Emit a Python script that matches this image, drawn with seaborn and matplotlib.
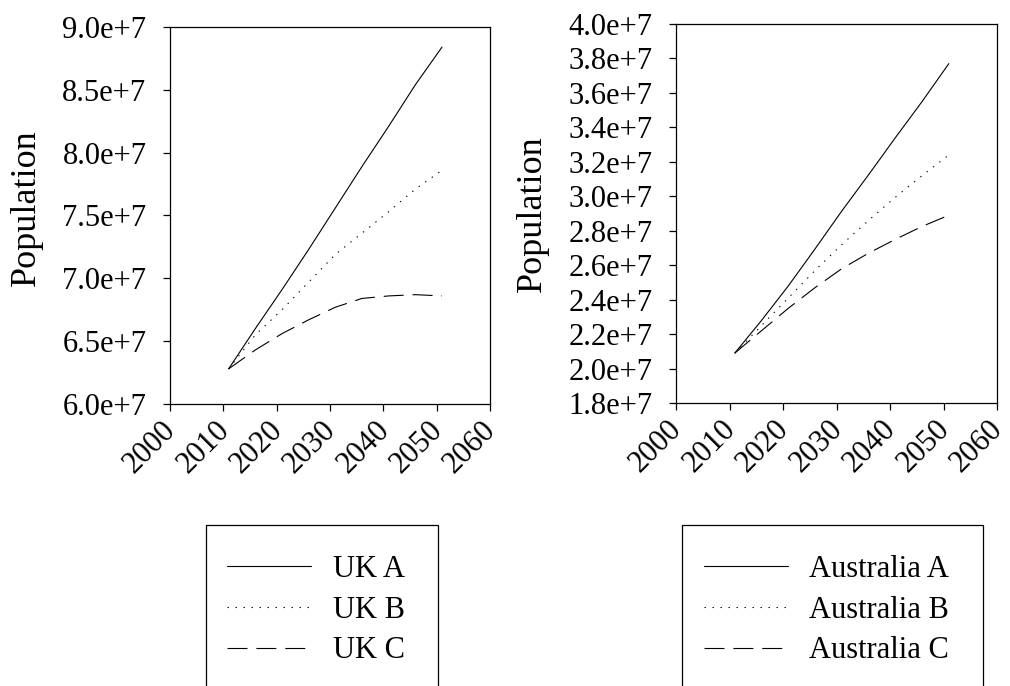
import matplotlib
matplotlib.use("Agg")
import matplotlib.pyplot as plt
import matplotlib.ticker as mticker
import matplotlib.transforms as mtransforms
from matplotlib.patches import Rectangle
import seaborn as sns

# Projection years and population series (persons)
years = [2011, 2016, 2021, 2026, 2031, 2036, 2041, 2046, 2051]

uk_a = [62.8e6, 66.0e6, 69.1e6, 72.3e6, 75.6e6, 78.9e6, 82.1e6, 85.4e6, 88.4e6]
uk_b = [62.8e6, 65.5e6, 67.5e6, 69.7e6, 71.9e6, 73.6e6, 75.3e6, 77.1e6, 78.6e6]
uk_c = [62.8e6, 64.3e6, 65.6e6, 66.7e6, 67.7e6, 68.4e6, 68.6e6, 68.7e6, 68.6e6]

au_a = [20.9e6, 22.8e6, 24.8e6, 26.95e6, 29.15e6, 31.25e6, 33.4e6, 35.5e6, 37.7e6]
au_b = [20.9e6, 22.5e6, 24.1e6, 25.7e6, 27.2e6, 28.6e6, 29.95e6, 31.2e6, 32.4e6]
au_c = [20.9e6, 22.2e6, 23.5e6, 24.7e6, 25.8e6, 26.7e6, 27.5e6, 28.25e6, 28.9e6]

uk_labels = ["UK A", "UK B", "UK C"]
au_labels = ["Australia A", "Australia B", "Australia C"]

x_ticks = [2000, 2010, 2020, 2030, 2040, 2050, 2060]
uk_yticks = [6.0e7, 6.5e7, 7.0e7, 7.5e7, 8.0e7, 8.5e7, 9.0e7]
au_yticks = [1.8e7, 2.0e7, 2.2e7, 2.4e7, 2.6e7, 2.8e7, 3.0e7, 3.2e7, 3.4e7, 3.6e7, 3.8e7, 4.0e7]

sns.set_theme(style="white")
plt.rcParams["font.family"] = ["Liberation Serif", "DejaVu Serif"]
plt.rcParams["text.color"] = "black"
plt.rcParams["axes.labelcolor"] = "black"
plt.rcParams["axes.edgecolor"] = "black"
plt.rcParams["axes.linewidth"] = 0.9

line_styles = ["-", (0, (1.2, 6)), (0, (18, 8))]
FS = 22


def sci_fmt(v, _pos):
    mant, exp = f"{v:.1e}".split("e")
    return f"{mant}e{int(exp):+d}"


fig = plt.figure(figsize=(10.10, 6.86), dpi=100)
ax1 = fig.add_axes([170 / 1010, 1 - 404 / 686, 320 / 1010, 377 / 686])
ax2 = fig.add_axes([676 / 1010, 1 - 403 / 686, 321 / 1010, 379 / 686])

# (axes, series, labels, y ticks, legend box left/right px, ylabel centre)
panels = [
    (ax1, [uk_a, uk_b, uk_c], uk_labels, uk_yticks, (205.7, 437.7), 0.52),
    (ax2, [au_a, au_b, au_c], au_labels, au_yticks, (682, 983), 0.50),
]

shift = mtransforms.ScaledTranslation(1.2 / 72, 0, fig.dpi_scale_trans)

for ax, series, labels, yticks, (bx0, bx1), ycen in panels:
    for vals, lab, ls in zip(series, labels, line_styles):
        sns.lineplot(x=years, y=vals, ax=ax, color="black", linewidth=0.8,
                     linestyle=ls, label=lab, legend=False)
    ax.set_xlim(x_ticks[0], x_ticks[-1])
    ax.set_ylim(yticks[0], yticks[-1])
    ax.set_xticks(x_ticks)
    ax.set_yticks(yticks)
    ax.yaxis.set_major_formatter(mticker.FuncFormatter(sci_fmt))
    ax.tick_params(axis="both", which="major", direction="out", length=5,
                   width=0.9, color="black", labelsize=FS, labelcolor="black",
                   bottom=True, left=True)
    ax.tick_params(axis="y", pad=12)
    ax.tick_params(axis="x", pad=11)
    for lbl in ax.get_xticklabels():
        lbl.set_rotation(45)
        lbl.set_ha("right")
        lbl.set_va("center")
        lbl.set_rotation_mode("anchor")
        lbl.set_transform(lbl.get_transform() + shift)
    for sp in ax.spines.values():
        sp.set_visible(True)
        sp.set_color("black")
    ax.set_xlabel("")
    ax.set_ylabel("Population", fontsize=26, color="black")
    ax.yaxis.set_label_coords(-0.397, ycen)

    # legend frame running off the bottom edge
    fig.add_artist(Rectangle((bx0 / 1010, -0.05), (bx1 - bx0) / 1010,
                             (686 - 525) / 686 + 0.05,
                             transform=fig.transFigure, fill=False,
                             edgecolor="black", linewidth=0.9, clip_on=False))
    handles = ax.get_lines()[:3]
    fig.legend(handles, labels, loc="center left",
               bbox_to_anchor=((bx0 + 21.5) / 1010, 1 - 610 / 686),
               borderaxespad=0, borderpad=0, frameon=False,
               fontsize=FS, handlelength=2.75, handletextpad=0.7,
               labelspacing=0.39, labelcolor="black")

fig.savefig("out.png", dpi=100, facecolor="white")
